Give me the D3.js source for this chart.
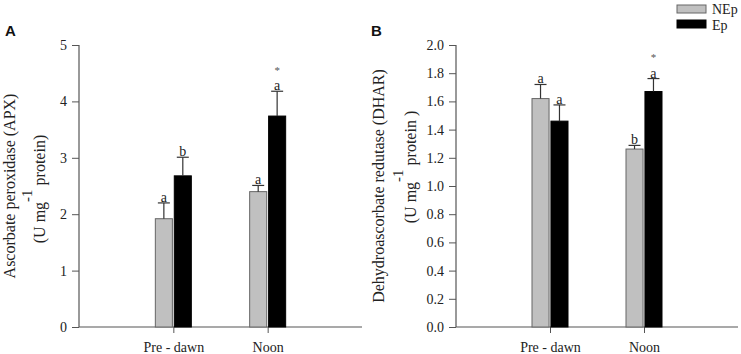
<!DOCTYPE html>
<html><head><meta charset="utf-8">
<script src="https://cdn.jsdelivr.net/npm/d3@7"></script>
<style>body{margin:0;background:#fff}svg{display:block}
.serif{font-family:"Liberation Serif","Times New Roman",Times,"DejaVu Serif",serif}</style>
</head><body>
<svg id="c" width="741" height="354"></svg>
<script>
const categories = ["Pre - dawn", "Noon"];
const seriesNames = ["NEp", "Ep"];
// Panel A: APX
const apxNEp = [1.92, 2.40];
const apxNEpErr = [0.28, 0.11];
const apxEp = [2.68, 3.74];
const apxEpErr = [0.33, 0.44];
const apxLetters = [["a", "a"], ["b", "a"]]; // [series][category]
const apxStars = [["", ""], ["", "*"]];
const apxTicks = [0, 1, 2, 3, 4, 5];
// Panel B: DHAR
const dharNEp = [1.62, 1.262];
const dharNEpErr = [0.10, 0.026];
const dharEp = [1.46, 1.67];
const dharEpErr = [0.115, 0.092];
const dharLetters = [["a", "b"], ["a", "a"]];
const dharStars = [["", ""], ["", "*"]];
const dharTicks = [0, 0.2, 0.4, 0.6, 0.8, 1.0, 1.2, 1.4, 1.6, 1.8, 2.0];

const colors = {NEp: "#c0c0c0", Ep: "#000000"};
const svg = d3.select("#c");

function panel(opt) {
  const {x0, x1, y0, y1, values, errs, letters, stars, ticks, max, fmt, label, title1, t1x, t2x, t2y} = opt;
  const g = svg.append("g");
  const x = d3.scalePoint().domain(categories).range([x0, x1]).padding(1);
  const y = d3.scaleLinear().domain([0, max]).range([y1, y0]);
  const s = d3.scaleBand().domain(seriesNames).range([-18, 18]).paddingInner(0.1);

  const yAx = g.append("g").attr("transform", `translate(${x0},0)`)
    .call(d3.axisLeft(y).tickValues(ticks).tickFormat(fmt).tickSize(7).tickPadding(5));
  const xAx = g.append("g").attr("transform", `translate(0,${y1})`)
    .call(d3.axisBottom(x).tickSize(6).tickPadding(9));
  [yAx, xAx].forEach(a => {
    a.attr("font-family", null);
    a.select(".domain").attr("stroke", "#555").attr("stroke-width", 1.2);
    a.selectAll(".tick line").attr("stroke", "#555");
    a.selectAll("text").attr("class", "serif").attr("font-size", 14).attr("fill", "#222");
  });
  xAx.select(".domain").attr("d", `M${x0},0H${x1}`);
  yAx.select(".domain").attr("d", `M0,${y1}V${y0}`);

  seriesNames.forEach((sn, si) => {
    const gs = g.append("g");
    categories.forEach((c, ci) => {
      const v = values[si][ci], e = errs[si][ci];
      const bx = x(c) + s(sn), bw = s.bandwidth(), cx = bx + bw / 2;
      gs.append("rect").attr("x", bx).attr("y", y(v)).attr("width", bw).attr("height", y(0) - y(v))
        .attr("fill", colors[sn]).attr("stroke", si === 0 ? "#666" : "#000").attr("stroke-width", 1);
      gs.append("line").attr("x1", cx).attr("x2", cx).attr("y1", y(v)).attr("y2", y(v + e))
        .attr("stroke", "#333").attr("stroke-width", 1.2);
      gs.append("line").attr("x1", cx - 6).attr("x2", cx + 6).attr("y1", y(v + e)).attr("y2", y(v + e))
        .attr("stroke", "#333").attr("stroke-width", 1.2);
      gs.append("text").attr("x", cx).attr("y", y(v + e) - 1).attr("text-anchor", "middle")
        .attr("class", "serif").attr("font-size", 14).attr("fill", "#222").text(letters[si][ci]);
      if (stars[si][ci]) gs.append("text").attr("x", cx).attr("y", y(v + e) - 17.5).attr("text-anchor", "middle")
        .attr("class", "serif").attr("font-size", 11).attr("fill", "#555").text(stars[si][ci]);
    });
  });

  svg.append("text").attr("x", opt.lx).attr("y", 36).attr("font-family", "'Liberation Sans',Arial,sans-serif")
    .attr("font-weight", "bold").attr("font-size", 15).attr("fill", "#111").text(label);
  const cy = (y0 + y1) / 2;
  svg.append("text").attr("transform", `translate(${t1x},${cy}) rotate(-90)`).attr("text-anchor", "middle")
    .attr("class", "serif").attr("font-size", 16).attr("fill", "#222").text(title1);
  const t2 = svg.append("text").attr("transform", `translate(${t2x},${t2y}) rotate(-90)`).attr("text-anchor", "middle")
    .attr("class", "serif").attr("font-size", 16).attr("fill", "#222");
  t2.append("tspan").text("(U mg");
  t2.append("tspan").attr("dy", -13).attr("font-size", 15).text("-1");
  t2.append("tspan").attr("dy", 13).text(opt.title2tail);
}

panel({x0: 79, x1: 362, y0: 45, y1: 327, values: [apxNEp, apxEp], errs: [apxNEpErr, apxEpErr],
  letters: apxLetters, stars: apxStars, ticks: apxTicks, max: 5, fmt: d3.format("d"), label: "A", lx: 5,
  title1: "Ascorbate peroxidase (APX)", t1x: 15, t2x: 45, t2y: 189, title2tail: "   protein)"});
panel({x0: 456, x1: 738, y0: 45, y1: 327, values: [dharNEp, dharEp], errs: [dharNEpErr, dharEpErr],
  letters: dharLetters, stars: dharStars, ticks: dharTicks, max: 2, fmt: d3.format(".1f"), label: "B", lx: 371,
  title1: "Dehydroascorbate redutase (DHAR)", t1x: 384, t2x: 416, t2y: 167, title2tail: "   protein )"});

const lg = svg.append("g");
seriesNames.forEach((sn, i) => {
  lg.append("rect").attr("x", 677).attr("y", 5 + i * 15).attr("width", 29).attr("height", 8)
    .attr("fill", colors[sn]).attr("stroke", i === 0 ? "#666" : "#000").attr("stroke-width", 1);
  lg.append("text").attr("x", 712).attr("y", 14 + i * 15.5).attr("class", "serif").attr("font-size", 14)
    .attr("fill", "#222").text(sn);
});
</script>
</body></html>
